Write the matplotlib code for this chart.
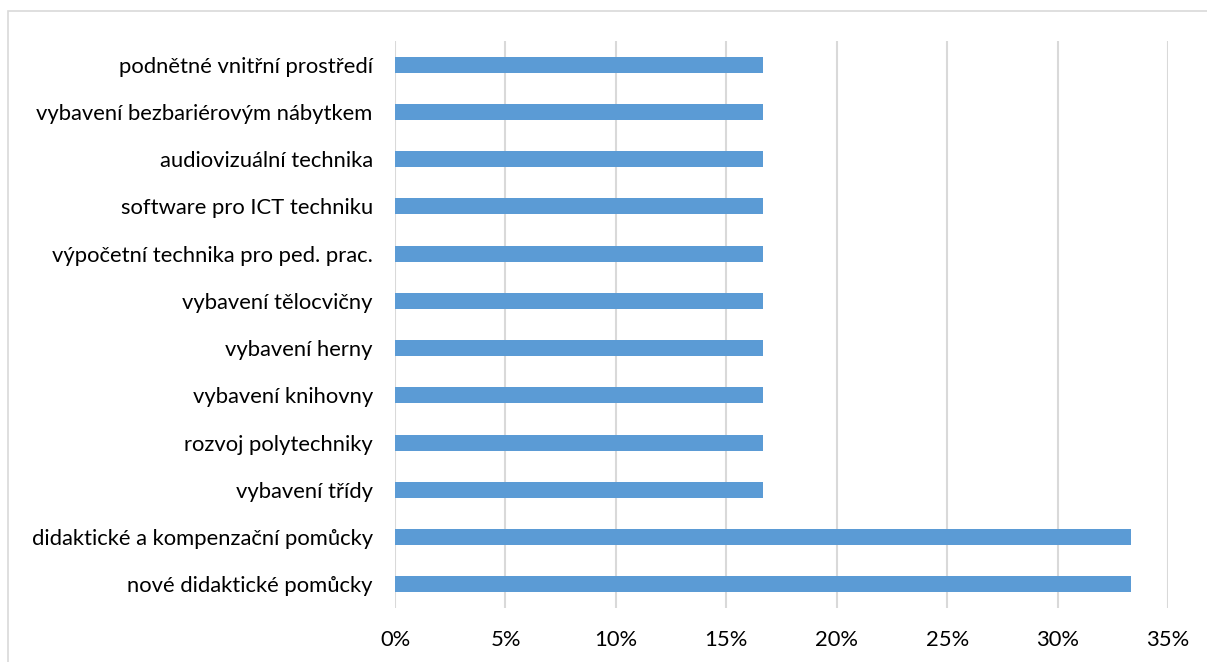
import matplotlib.pyplot as plt
from matplotlib.patches import Rectangle
from matplotlib.ticker import PercentFormatter

categories = ['nové didaktické pomůcky', 'didaktické a kompenzační pomůcky', 'vybavení třídy',
              'rozvoj polytechniky', 'vybavení knihovny', 'vybavení herny', 'vybavení tělocvičny',
              'výpočetní technika pro ped. prac.', 'software pro ICT techniku',
              'audiovizuální technika', 'vybavení bezbariérovým nábytkem', 'podnětné vnitřní prostředí']
values = [33.33, 33.33, 16.67, 16.67, 16.67, 16.67, 16.67, 16.67, 16.67, 16.67, 16.67, 16.67]
ticks = [0, 5, 10, 15, 20, 25, 30, 35]

plt.rcParams['font.family'] = ['Lato', 'DejaVu Sans']

fig = plt.figure(figsize=(12.07, 6.62), dpi=100)
ax = fig.add_axes([0.3273, 0.0816, 0.6404, 0.8565])

ax.barh(range(len(categories)), values, height=0.34, color='#5b9bd5', zorder=3)
ax.set_ylim(-0.5, len(categories) - 0.5)
ax.set_xlim(0, 35)
ax.set_xticks(ticks)
ax.xaxis.set_major_formatter(PercentFormatter(decimals=0))
ax.set_yticks(range(len(categories)))
ax.set_yticklabels(categories)
ax.grid(axis='x', color='#d9d9d9', linewidth=1.5, zorder=0)
for s in ax.spines.values():
    s.set_visible(False)
ax.tick_params(length=0, labelsize=15.8, colors='#000000')
ax.tick_params(axis='y', pad=16)
ax.tick_params(axis='x', pad=16)

fig.patches.append(Rectangle((8 / 1207, -0.01), 1.2, 1 - 11 / 662 + 0.01, transform=fig.transFigure,
                             fill=False, edgecolor='#d9d9d9', linewidth=1.2))

fig.savefig('out.png', dpi=100)
